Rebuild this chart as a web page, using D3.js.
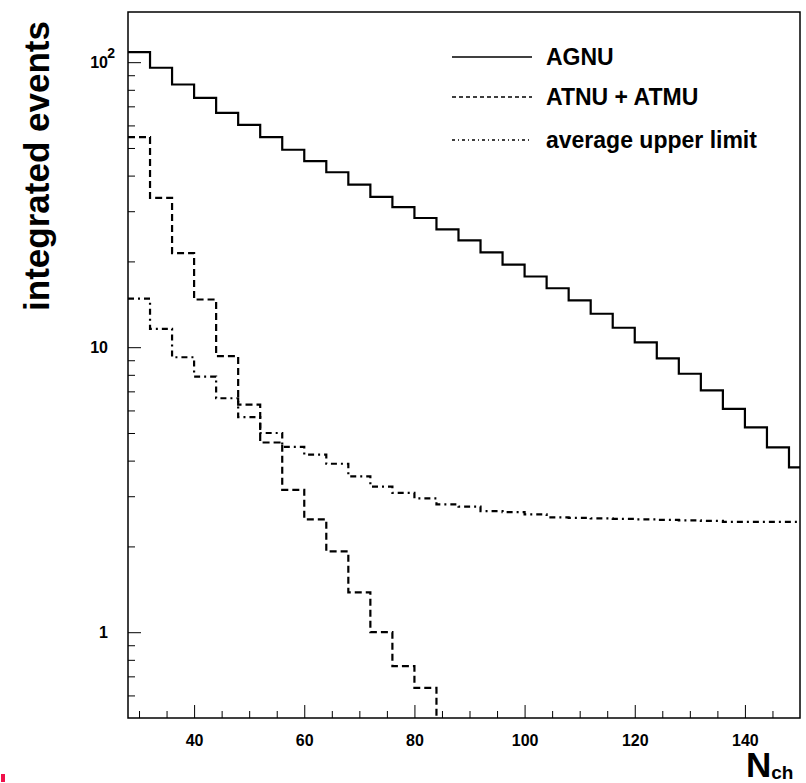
<!DOCTYPE html>
<html>
<head>
<meta charset="utf-8">
<script src="https://cdn.jsdelivr.net/npm/d3@7"></script>
<style>
  body { margin: 0; background: #fff; }
  svg { display: block; font-family: "Liberation Sans", Arial, sans-serif; }
</style>
</head>
<body>
<div id="chart"></div>
<script>
// lower bin edges of N_ch (bin width 4)
const binLow = [28, 32, 36, 40, 44, 48, 52, 56, 60, 64, 68, 72, 76, 80, 84, 88,
                92, 96, 100, 104, 108, 112, 116, 120, 124, 128, 132, 136, 140, 144, 148];

// integrated events per bin
const agnu = [108.4, 95.6, 83.5, 75.0, 66.4, 60.3, 54.6, 49.3, 45.0, 41.1, 37.2, 33.7, 31.0, 28.4, 25.9, 23.7,
              21.5, 19.5, 17.7, 16.1, 14.6, 13.1, 11.7, 10.4, 9.13, 8.07, 7.05, 6.08, 5.23, 4.45, 3.79];
const atnuAtmu = [54.6, 33.4, 21.4, 14.7, 9.30, 6.29, 4.63, 3.16, 2.49, 1.92, 1.38, 1.00, 0.76, 0.638, 0, 0,
                  0, 0, 0, 0, 0, 0, 0, 0, 0, 0, 0, 0, 0, 0, 0];
const upperLimit = [14.8, 11.6, 9.22, 7.89, 6.62, 5.68, 5.00, 4.47, 4.20, 3.90, 3.52, 3.24, 3.08, 2.95, 2.81, 2.76,
                    2.66, 2.64, 2.59, 2.53, 2.52, 2.51, 2.50, 2.49, 2.48, 2.47, 2.46, 2.44, 2.44, 2.44, 2.44];

const xMajor = [40, 60, 80, 100, 120, 140];
const xMinor = [30, 35, 45, 50, 55, 65, 70, 75, 85, 90, 95, 105, 110, 115, 125, 130, 135, 145];
const yMajor = [1, 10, 100];
const yMinor = [0.6, 0.7, 0.8, 0.9, 2, 3, 4, 5, 6, 7, 8, 9, 20, 30, 40, 50, 60, 70, 80, 90];

const legendItems = [
  { label: "AGNU", dash: null },
  { label: "ATNU + ATMU", dash: "4,3" },
  { label: "average upper limit", dash: "3,3,1,3" }
];

const width = 806, height = 783;
const xMin = 28, xMax = 150, yMin = 0.5, yMax = 150;

const svg = d3.select("#chart").append("svg")
    .attr("width", width)
    .attr("height", height);

const x = d3.scaleLinear().domain([xMin, xMax]).range([128, 800]);
const y = d3.scaleLog().domain([yMin, yMax]).range([718, 12]);

// x axis ticks (drawn inward)
const xAxisG = svg.append("g").attr("transform", "translate(0,718)");
xAxisG.call(d3.axisBottom(x).tickValues(xMajor).tickSize(-13).tickPadding(17).tickFormat(d3.format("d")));
xAxisG.append("g").call(d3.axisBottom(x).tickValues(xMinor).tickSize(-7).tickFormat(""));

// y axis ticks
const yAxisG = svg.append("g").attr("transform", "translate(128,0)");
yAxisG.call(d3.axisLeft(y).tickValues(yMajor).tickSize(-13).tickPadding(20).tickFormat(d => d === 100 ? "10" : d3.format("d")(d)));
yAxisG.append("g").call(d3.axisLeft(y).tickValues(yMinor).tickSize(-7).tickFormat(""));

svg.selectAll(".domain").remove();
svg.selectAll(".tick line").attr("stroke", "#000").attr("stroke-width", 1);
svg.selectAll(".tick text")
    .attr("fill", "#000")
    .style("font-size", "16px")
    .style("font-weight", "bold")
    .style("font-family", "'Liberation Sans', Arial, sans-serif");

// exponent on the 10^2 label
yAxisG.append("text")
    .attr("x", -13)
    .attr("y", y(100) - 4)
    .attr("fill", "#000")
    .style("font-size", "14px")
    .style("font-weight", "bold")
    .text("2");

// histograms
function stepPoints(vals) {
  const pts = [];
  for (let i = 0; i < vals.length; i++) {
    if (vals[i] > 0) {
      pts.push([binLow[i], vals[i]]);
    } else {
      if (pts.length) pts.push([binLow[i], yMin]);
      return pts;
    }
  }
  pts.push([xMax, vals[vals.length - 1]]);
  return pts;
}

const line = d3.line()
    .x(d => x(d[0]))
    .y(d => y(d[1]))
    .curve(d3.curveStepAfter);

const histG = svg.append("g").attr("fill", "none").attr("stroke", "#000");

histG.append("path")
    .attr("d", line(stepPoints(agnu)))
    .attr("stroke-width", 2.2);

histG.append("path")
    .attr("d", line(stepPoints(atnuAtmu)))
    .attr("stroke-width", 2.2)
    .attr("stroke-dasharray", "7,4");

histG.append("path")
    .attr("d", line(stepPoints(upperLimit)))
    .attr("stroke-width", 2.2)
    .attr("stroke-dasharray", "6,4,2,4");

// frame
svg.append("rect")
    .attr("x", x(xMin))
    .attr("y", y(yMax))
    .attr("width", x(xMax) - x(xMin))
    .attr("height", y(yMin) - y(yMax))
    .attr("fill", "none")
    .attr("stroke", "#000")
    .attr("stroke-width", 1.5);

// legend
const legend = svg.append("g");
const rowY = [57, 97, 140];
legendItems.forEach((item, i) => {
  legend.append("line")
      .attr("x1", 452).attr("x2", 532)
      .attr("y1", rowY[i]).attr("y2", rowY[i])
      .attr("stroke", "#000")
      .attr("stroke-width", 1.3)
      .attr("stroke-dasharray", item.dash);
  legend.append("text")
      .attr("x", 546)
      .attr("y", rowY[i] + 8)
      .style("font-size", "23px")
      .style("font-weight", "bold")
      .text(item.label);
});

// axis titles
svg.append("text")
    .attr("transform", "translate(49,166) rotate(-90)")
    .attr("text-anchor", "middle")
    .style("font-size", "35px")
    .style("font-weight", "bold")
    .text("integrated events");

const nch = svg.append("text")
    .attr("x", 746)
    .attr("y", 777)
    .style("font-weight", "bold");
nch.append("tspan").style("font-size", "35px").text("N");
nch.append("tspan").attr("dy", 2).style("font-size", "19px").text("ch");

// small red mark in the corner of the original
svg.append("rect")
    .attr("x", 1).attr("y", 774)
    .attr("width", 4).attr("height", 8)
    .attr("fill", "#f0104a");
</script>
</body>
</html>
